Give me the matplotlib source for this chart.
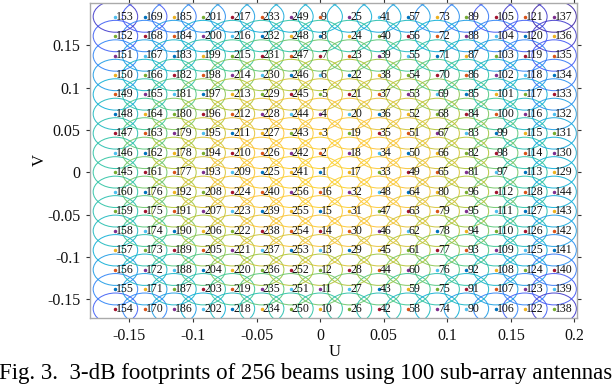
import numpy as np
import matplotlib
matplotlib.use("Agg")
import matplotlib.pyplot as plt
from matplotlib.colors import LinearSegmentedColormap
from matplotlib.patches import Ellipse

plt.rcParams['font.family'] = ['Liberation Serif', 'DejaVu Serif']
plt.rcParams['axes.unicode_minus'] = False

# Beam centre coordinates: column U values and row V values,
# in the order in which beam numbers run (beam k: column (k-1)//16, row (k-1)%16)
u_cols = [0.0, 0.023, 0.046, 0.069, 0.092, 0.115, 0.138, 0.161, 0.184,
          -0.161, -0.138, -0.115, -0.092, -0.069, -0.046, -0.023]
v_rows = [0.0, 0.023, 0.046, 0.069, 0.092, 0.115, 0.138, 0.161, 0.184,
          -0.161, -0.138, -0.115, -0.092, -0.069, -0.046, -0.023]
n_beams = 256
footprint_w = 0.035   # 3-dB footprint width in U
footprint_h = 0.037   # 3-dB footprint height in V

x_ticks = [-0.15, -0.1, -0.05, 0, 0.05, 0.1, 0.15, 0.2]
x_ticklabels = ['-0.15', '-0.1', '-0.05', '0', '0.05', '0.1', '0.15', '0.2']
y_ticks = [-0.15, -0.1, -0.05, 0, 0.05, 0.1, 0.15]
y_ticklabels = ['-0.15', '-0.1', '-0.05', '0', '0.05', '0.1', '0.15']

marker_colors = ['#0072BD', '#D95319', '#EDB120', '#7E2F8E', '#77AC30', '#4DBEEE', '#A2142F']

parula = LinearSegmentedColormap.from_list('parula', [
    (0.000, (0.2422, 0.1504, 0.6603)),
    (0.125, (0.2810, 0.3228, 0.9579)),
    (0.250, (0.1786, 0.5289, 0.9682)),
    (0.375, (0.0689, 0.6948, 0.8394)),
    (0.500, (0.2161, 0.7843, 0.5923)),
    (0.625, (0.6720, 0.7793, 0.2227)),
    (0.750, (0.9970, 0.7659, 0.2199)),
    (0.875, (0.9626, 0.9036, 0.1260)),
    (1.000, (0.9769, 0.9839, 0.0805)),
])

fig = plt.figure(figsize=(6.12, 3.86), dpi=100)
ax = fig.add_axes([90/612, 1-318/386, (577-90)/612, (318-3)/386])

for k in range(1, n_beams + 1):
    u = u_cols[(k - 1) // 16]
    v = v_rows[(k - 1) % 16]
    r2 = u * u + v * v
    level = max(0.0, 0.8 - 12.4 * r2)
    ax.add_patch(Ellipse((u, v), footprint_w, footprint_h, fill=False,
                         edgecolor=parula(level), linewidth=0.75, alpha=0.9, zorder=1))
for k in range(1, n_beams + 1):
    u = u_cols[(k - 1) // 16]
    v = v_rows[(k - 1) % 16]
    ax.plot([u], [v], '.', color=marker_colors[(k - 1) % 7], markersize=3, zorder=3)
    ax.annotate(str(k), (u, v), xytext=(0.6, 0), textcoords='offset points',
                ha='left', va='center', fontsize=8.5, color='#111111', zorder=4)

ax.set_xlim(-0.181, 0.202)
ax.set_ylim(-0.172, 0.2)
ax.set_xticks(x_ticks)
ax.set_xticklabels(x_ticklabels)
ax.set_yticks(y_ticks)
ax.set_yticklabels(y_ticklabels)
ax.tick_params(direction='out', length=3, width=0.8, labelsize=11.5, colors='#333333',
               labelcolor='#111111', top=True, right=True, pad=4)
for s in ax.spines.values():
    s.set_color('#aaaaaa')
    s.set_linewidth(1.0)

fig.text(335/612, 1-352/386, 'U', ha='center', va='center', fontsize=12)
fig.text(40/612, 1-160/386, 'V', ha='center', va='center', fontsize=12, rotation=90)
fig.text(306/612, 1-373/386, 'Fig. 3.  3-dB footprints of 256 beams using 100 sub-array antennas',
         ha='center', va='center', fontsize=16.5)

fig.savefig('out.png', dpi=100)
